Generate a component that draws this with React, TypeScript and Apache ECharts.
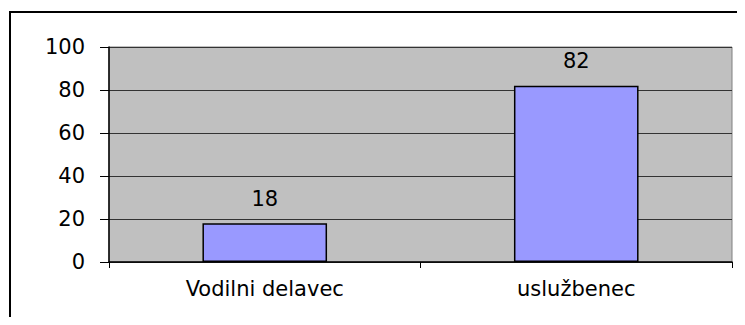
import React, { useEffect, useRef } from "react";
import * as echarts from "echarts";

const categories = ["Vodilni delavec", "uslužbenec"];
const values = [18, 82];
const yTicks = { min: 0, max: 100, interval: 20 };

export default function App() {
  const ref = useRef<HTMLDivElement>(null);
  useEffect(() => {
    const chart = echarts.init(ref.current!, null, { renderer: "svg" });
    const font = "'DejaVu Sans', 'Liberation Sans', Arial, sans-serif";
    chart.setOption({
      animation: false,
      backgroundColor: "#ffffff",
      graphic: [
        {
          type: "line",
          shape: { x1: 10, y1: 12, x2: 745, y2: 12 },
          style: { stroke: "#000", lineWidth: 2 },
          silent: true,
        },
        {
          type: "line",
          shape: { x1: 10, y1: 11, x2: 10, y2: 325 },
          style: { stroke: "#000", lineWidth: 2 },
          silent: true,
        },
      ],
      grid: {
        left: 109,
        top: 47,
        right: 13,
        bottom: 63,
        show: true,
        backgroundColor: "#C0C0C0",
        borderColor: "#808080",
        borderWidth: 1,
      },
      xAxis: {
        type: "category",
        data: categories,
        boundaryGap: true,
        axisLine: { show: true, lineStyle: { color: "#000", width: 1.5 } },
        axisTick: { show: true, alignWithLabel: false, length: 6, lineStyle: { color: "#000" } },
        axisLabel: { color: "#000", fontSize: 21, fontFamily: font, margin: 16 },
        splitLine: { show: false },
      },
      yAxis: {
        type: "value",
        min: yTicks.min,
        max: yTicks.max,
        interval: yTicks.interval,
        axisLine: { show: true, lineStyle: { color: "#000", width: 1.5 } },
        axisTick: { show: true, inside: false, length: 9, lineStyle: { color: "#000" } },
        axisLabel: { color: "#000", fontSize: 21, fontFamily: font, margin: 24 },
        splitLine: { show: true, lineStyle: { color: "#333", width: 1 } },
      },
      series: [
        {
          type: "bar",
          data: values,
          barWidth: "40%",
          itemStyle: { color: "#9999FF", borderColor: "#000", borderWidth: 1.5 },
          label: {
            show: true,
            position: "top",
            distance: 14,
            color: "#000",
            fontSize: 21,
            fontFamily: font,
          },
        },
      ],
    });
    return () => chart.dispose();
  }, []);
  return <div ref={ref} style={{ width: 745, height: 325, margin: -8 }} />;
}
